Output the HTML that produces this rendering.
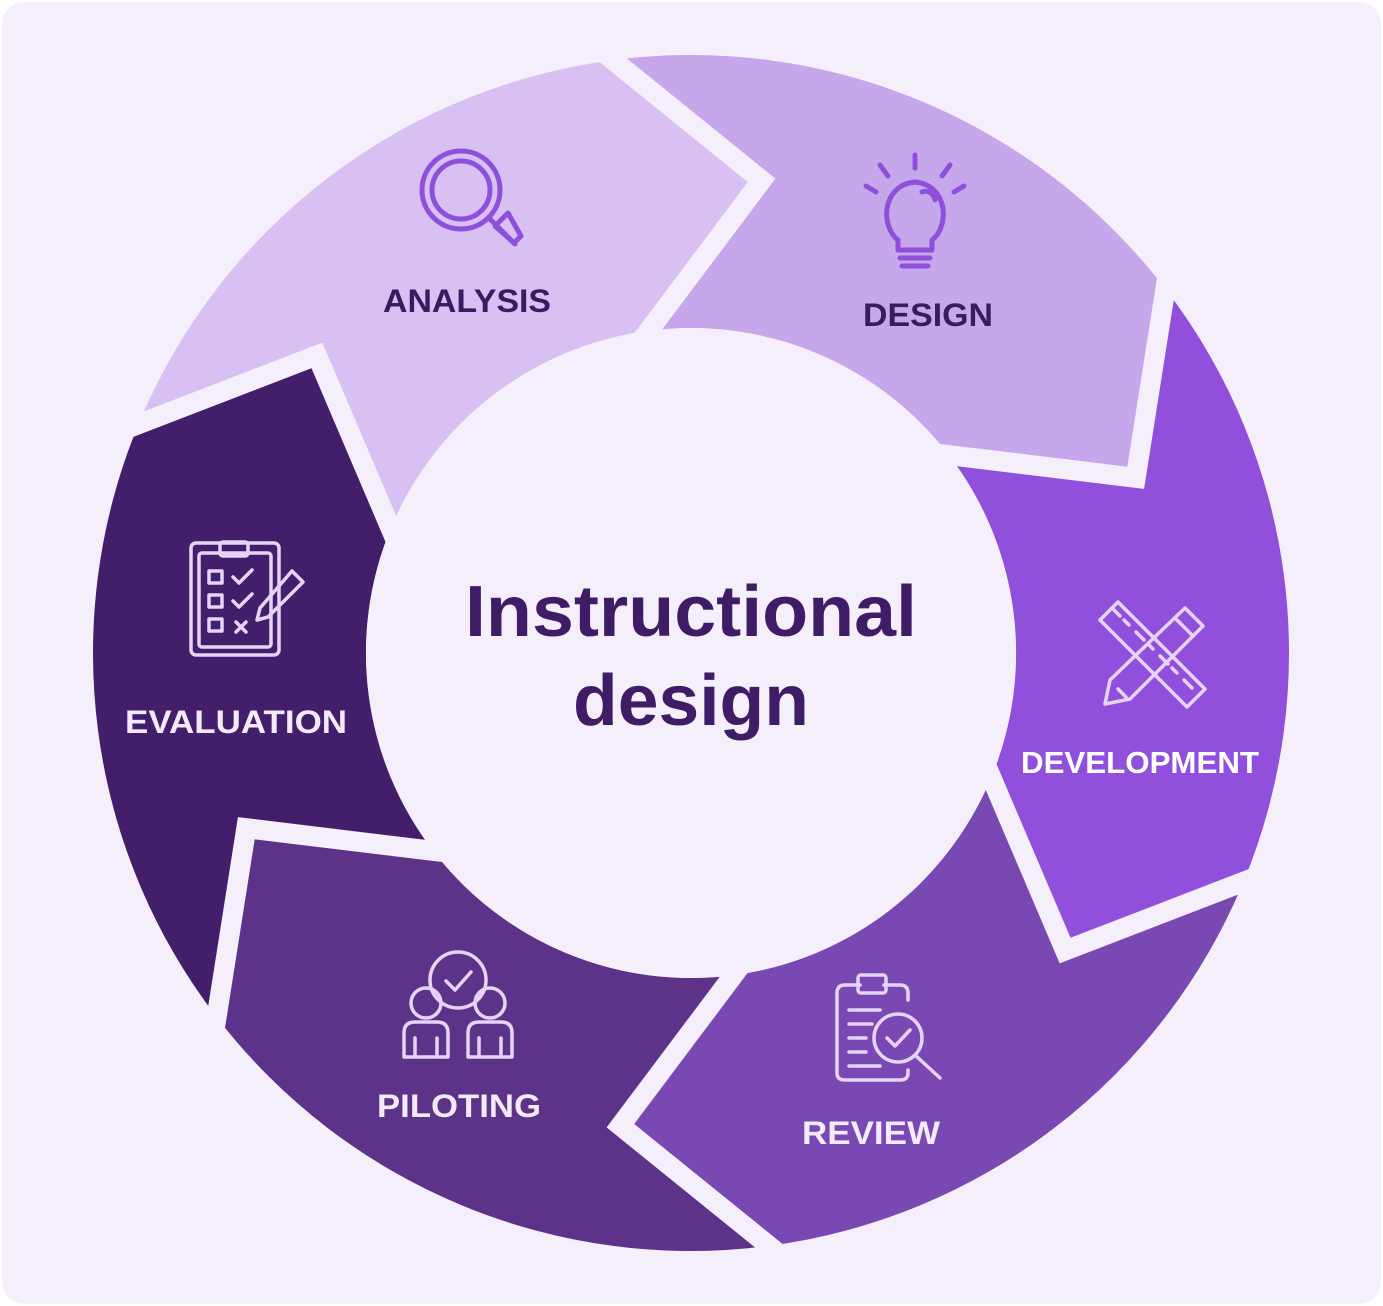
<!DOCTYPE html>
<html><head><meta charset="utf-8"><style>
html,body{margin:0;padding:0;background:#fff;}
svg{display:block;}
text{font-family:"Liberation Sans",sans-serif;font-weight:bold;}
</style></head><body>
<svg width="1383" height="1306" viewBox="0 0 1383 1306" xmlns="http://www.w3.org/2000/svg">
<rect x="2" y="2" width="1379" height="1302" rx="22" fill="#f5effc"/>
<path d="M138.5,424.2 A598,598 0 0 1 613,60.1 L761.6,180.3 L648.6,330.8 A325,325 0 0 0 390.7,528.6 L316.9,355.4 Z" fill="#d8c0f2"/>
<path d="M613,60.1 A598,598 0 0 1 1165.4,288.9 L1135.7,477.8 L948.9,455.1 A325,325 0 0 0 648.6,330.8 L761.6,180.3 Z" fill="#c7a7eb"/>
<path d="M1165.4,288.9 A598,598 0 0 1 1243.5,881.8 L1065.1,950.6 L991.3,777.4 A325,325 0 0 0 948.9,455.1 L1135.7,477.8 Z" fill="#9150dc"/>
<path d="M1243.5,881.8 A598,598 0 0 1 769,1245.9 L620.4,1125.7 L733.4,975.2 A325,325 0 0 0 991.3,777.4 L1065.1,950.6 Z" fill="#7a48b3"/>
<path d="M769,1245.9 A598,598 0 0 1 216.6,1017.1 L246.3,828.2 L433.1,850.9 A325,325 0 0 0 733.4,975.2 L620.4,1125.7 Z" fill="#5c3389"/>
<path d="M216.6,1017.1 A598,598 0 0 1 138.5,424.2 L316.9,355.4 L390.7,528.6 A325,325 0 0 0 433.1,850.9 L246.3,828.2 Z" fill="#431e6a"/>
<g fill="none" stroke="#f5effc" stroke-width="20" stroke-linecap="square" stroke-linejoin="miter">
<polyline points="1243.5,881.8 1065.1,950.6 991.3,777.4"/>
<polyline points="769,1245.9 620.4,1125.7 733.4,975.2"/>
<polyline points="216.6,1017.1 246.3,828.2 433.1,850.9"/>
<polyline points="138.5,424.2 316.9,355.4 390.7,528.6"/>
<polyline points="613,60.1 761.6,180.3 648.6,330.8"/>
<polyline points="1165.4,288.9 1135.7,477.8 948.9,455.1"/>
</g>
<circle cx="691" cy="653" r="325" fill="#f5effc"/>
<text x="691" y="636" text-anchor="middle" font-size="72" fill="#3f1d66" textLength="452" lengthAdjust="spacingAndGlyphs">Instructional</text>
<text x="691" y="725" text-anchor="middle" font-size="72" fill="#3f1d66" textLength="236" lengthAdjust="spacingAndGlyphs">design</text>
<text x="467" y="312" text-anchor="middle" font-size="32" fill="#3a1a62" textLength="168" lengthAdjust="spacingAndGlyphs">ANALYSIS</text>
<text x="928" y="326" text-anchor="middle" font-size="32" fill="#3a1a62" textLength="130" lengthAdjust="spacingAndGlyphs">DESIGN</text>
<text x="1140" y="773" text-anchor="middle" font-size="31" fill="#fff" textLength="238" lengthAdjust="spacingAndGlyphs">DEVELOPMENT</text>
<text x="871" y="1144" text-anchor="middle" font-size="32" fill="#f3eafc" textLength="138" lengthAdjust="spacingAndGlyphs">REVIEW</text>
<text x="459" y="1117" text-anchor="middle" font-size="32" fill="#f3eafc" textLength="164" lengthAdjust="spacingAndGlyphs">PILOTING</text>
<text x="236" y="733" text-anchor="middle" font-size="32" fill="#f3eafc" textLength="222" lengthAdjust="spacingAndGlyphs">EVALUATION</text>
<g fill="none" stroke="#8e50da" stroke-width="5" stroke-linecap="round" stroke-linejoin="round">
<circle cx="461" cy="190" r="39"/>
<circle cx="461" cy="190" r="29"/>
<path d="M490,219 L515,244"/>
<path d="M495,226 L508,213 L521,236 L514,243 Z"/>
<path d="M898,240 C880,226 882,185 915,182 C948,185 950,226 932,240 L932,250 L898,250 Z"/>
<path d="M900,258 L930,258 M902,266 L928,266"/>
<path d="M915,168 V155 M888,176 L880,165 M942,176 L950,165 M876,192 L866,186 M954,192 L964,186"/>
<path d="M935,200 C933,192 927,190 922,192"/>
</g>
<g fill="none" stroke="#e6d4f8" stroke-width="3.5" stroke-linecap="round" stroke-linejoin="round">
<path d="M1100,620 L1118,602 L1205,689 L1187,707 Z"/>
<path d="M1112,608 L1120,616 M1124,620 L1129,625 M1136,632 L1144,640 M1148,644 L1153,649 M1160,656 L1168,664 M1172,668 L1177,673 M1184,680 L1192,688"/>
<path d="M1185,608 L1203,626 L1130,699 L1105,704 L1110,680 Z"/>
<path d="M1118,689 L1126,697 M1175,618 L1193,636"/>
<path d="M860,985 L845,985 Q837,985 837,993 L837,1073 Q837,1080 845,1080 L900,1080 Q908,1080 908,1073 L908,1070"/>
<path d="M884,985 L900,985 Q908,985 908,993 L908,1000"/>
<rect x="858" y="975" width="28" height="18" rx="3"/>
<path d="M849,1010 L880,1010 M849,1024 L872,1024 M849,1038 L866,1038 M849,1052 L866,1052 M849,1066 L880,1066"/>
<circle cx="898" cy="1038" r="24"/>
<path d="M887,1038 L895,1046 L910,1030 M915,1055 L940,1078"/>
<circle cx="458" cy="980" r="28"/>
<path d="M446,981 L455,990 L471,972"/>
<circle cx="426" cy="1003" r="15"/>
<circle cx="490" cy="1003" r="15"/>
<path d="M404,1057 L404,1033 Q404,1022 415,1022 L437,1022 Q448,1022 448,1033 L448,1057 Z M415,1057 V1038 M437,1057 V1038"/>
<path d="M468,1057 L468,1033 Q468,1022 479,1022 L501,1022 Q512,1022 512,1033 L512,1057 Z M479,1057 V1038 M501,1057 V1038"/>
<rect x="191" y="543" width="88" height="112" rx="5"/>
<rect x="199" y="553" width="72" height="94" rx="3"/>
<rect x="220" y="542" width="28" height="14" rx="3"/>
<rect x="209" y="571" width="13" height="12"/>
<rect x="209" y="595" width="13" height="12"/>
<rect x="209" y="619" width="13" height="12"/>
<path d="M233,577 L239,583 L252,570 M233,601 L239,607 L252,594 M236,622 L246,632 M246,622 L236,632"/>
<path d="M292,571 L303,582 L268,617 L257,620 L260,608 Z"/>
</g>
</svg>
</body></html>
